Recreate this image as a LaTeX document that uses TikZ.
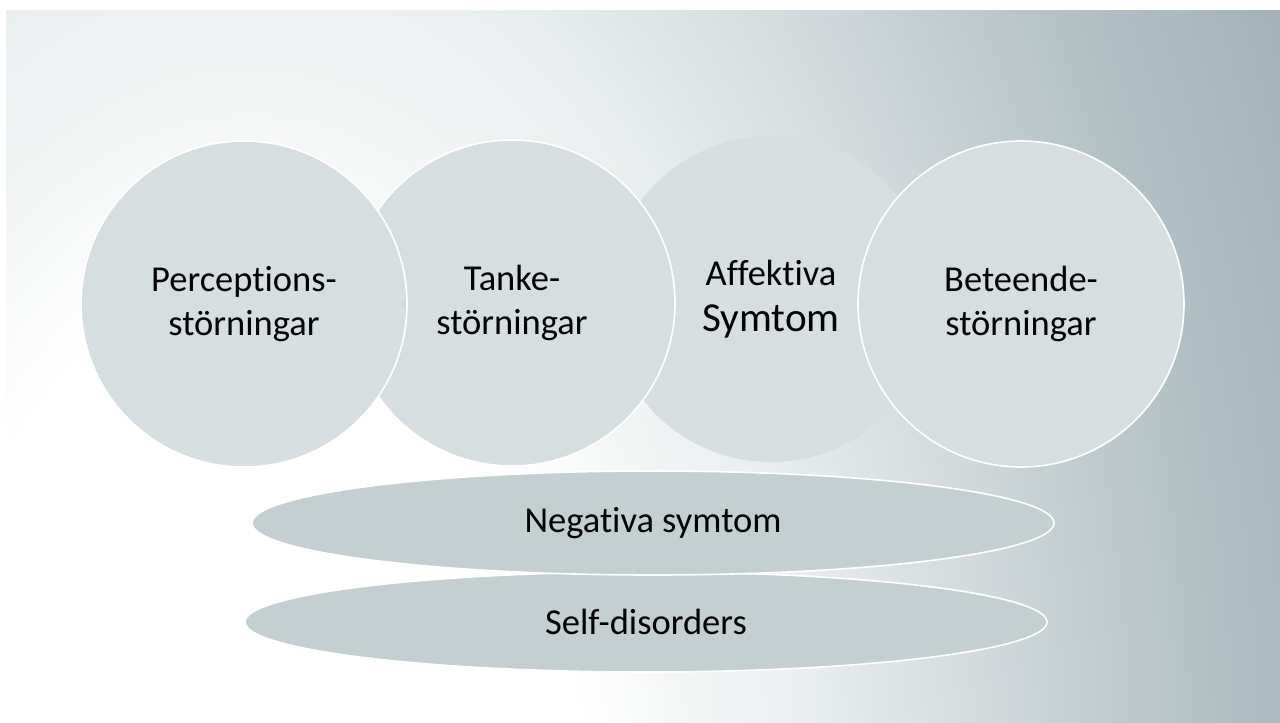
\documentclass[tikz,border=0pt]{standalone}
\usepackage{fontspec}
\setmainfont[Ligatures=NoCommon]{Carlito}
\usetikzlibrary{positioning,shapes.geometric}

\definecolor{ballfill}{HTML}{D7DEE0}
\definecolor{discfill}{HTML}{C4CFD2}
\definecolor{bgA}{HTML}{F5F7F7}
\definecolor{bgB}{HTML}{E8EDED}
\definecolor{bgC}{HTML}{CCD5D8}
\definecolor{bgD}{HTML}{B4C2C6}
\definecolor{bgE}{HTML}{A2B3B8}
\definecolor{bgF}{HTML}{8FA2A8}

% glow from the lower left corner
\pgfdeclareradialshading{bgglow}{\pgfpoint{0bp}{0bp}}{color(0bp)=(white); color(8bp)=(white); color(10.3bp)=(bgA); color(13.6bp)=(bgB); color(18.6bp)=(bgC); color(22.6bp)=(bgD); color(27.4bp)=(bgE); color(50bp)=(bgF)}

\begin{document}
\begin{tikzpicture}[x=0.5pt,y=-0.5pt,
  every node/.style={font=\fontsize{18.25}{22.3}\selectfont,align=center,inner sep=0pt},
  ball/.style={circle,fill=ballfill,draw=white,line width=0.8pt,minimum size=163pt},
  disc/.style={ellipse,fill=discfill,draw=white,line width=0.8pt,minimum width=401pt}]

\useasboundingbox (0,0) rectangle (1280,723);
\begin{scope}
\clip (6,10) rectangle (1280,723);
\shade[shading=bgglow] (-800,-900) rectangle (1300,2600);
\end{scope}

\node[ball,draw=none](a) at (771,299) {Affektiva\\[1pt]{\fontsize{20.6}{24}\selectfont Symtom}};
\node[ball](t) at (512,303) {Tanke-\\störningar};
\node[ball](p) at (244,304) {Perceptions-\\störningar};
\node[ball](b) at (1021,304) {Beteende-\\störningar};

\node[disc,minimum height=50pt](self) at (646,622) {Self-disorders};
\node[disc,minimum height=52pt](neg) at (653,523) {Negativa symtom};

\end{tikzpicture}
\end{document}
